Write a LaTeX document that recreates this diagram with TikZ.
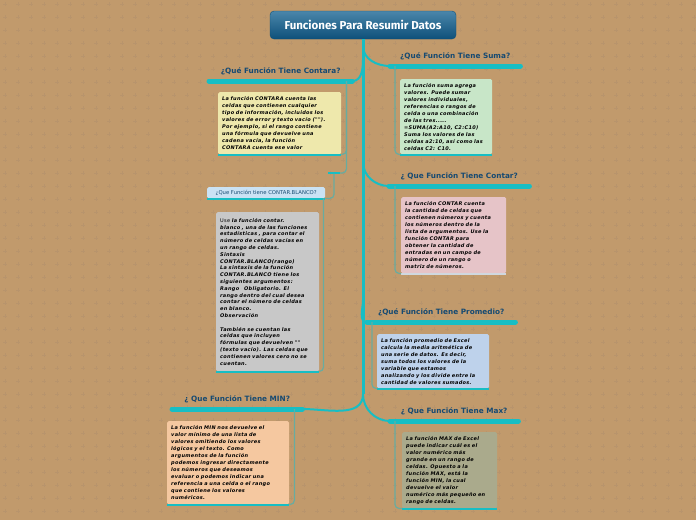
\documentclass[tikz,border=0pt]{standalone}
\usepackage{fontspec}
\setmainfont{DejaVu Sans}
\newfontfamily\titlefont{Fira Sans}
\newfontfamily\notefont[LetterSpace=6]{DejaVu Sans}
\usetikzlibrary{positioning}
\definecolor{board}{RGB}{193,154,108}
\definecolor{cross}{RGB}{184,148,108}
\definecolor{branch}{RGB}{23,190,196}
\definecolor{twig}{RGB}{104,172,160}
\definecolor{ink}{RGB}{22,74,114}
\definecolor{headtop}{RGB}{74,134,170}
\definecolor{headbot}{RGB}{14,80,122}
\definecolor{contarawash}{RGB}{238,232,172}
\definecolor{sumawash}{RGB}{200,230,200}
\definecolor{contarwash}{RGB}{230,196,200}
\definecolor{blancowash}{RGB}{202,226,244}
\definecolor{greywash}{RGB}{200,200,200}
\definecolor{promwash}{RGB}{190,210,235}
\definecolor{minwash}{RGB}{245,200,160}
\definecolor{maxwash}{RGB}{170,170,140}
\definecolor{pale}{RGB}{208,216,224}

\begin{document}
\begin{tikzpicture}[x=1pt, y=-1pt,
		head/.style={rounded corners=4pt, top color=headtop, bottom color=headbot,
			draw=headbot, minimum width=186pt, minimum height=28pt,
			font=\titlefont\bfseries\fontsize{11.5}{13}\selectfont, text=white},
		topic/.style={font=\bfseries\fontsize{7.3}{8}\selectfont, text=ink,
			inner xsep=0pt, inner ysep=6pt, text depth=1.5pt, anchor=south west},
		note/.style={font=\notefont\bfseries\itshape\fontsize{5}{7}\selectfont, align=left,
			anchor=north west, rounded corners=1.5pt, inner xsep=4pt, inner ysep=2pt},
		bar/.style={line width=5pt, branch, line cap=round},
		edge/.style={line width=2pt, branch},
		rim/.style={line width=2pt, branch},
		leaf/.style={line width=1.2pt, twig, rounded corners=4pt}]
		\useasboundingbox (0,0) rectangle (696,520);
		\fill[board] (0,0) rectangle (696,520);
		\foreach \x in {5,18,...,696}
			\foreach \y in {4,17,...,520}
				\draw[cross, line width=0.5pt] (\x-2,\y) -- (\x+2,\y) (\x,\y-2) -- (\x,\y+2);

		\node[head] (root) at (363,25) {Funciones Para Resumir Datos};
		\coordinate (trunkend) at (363,394);
		\draw[line width=3pt, branch] (root.south) -- (trunkend);

		% topics
		\node[topic, minimum width=130pt] (suma) at (390,66) {¿Qué Función Tiene Suma?};
		\node[topic, minimum width=143pt] (contara) at (209,81) {¿Qué Función Tiene Contara?};
		\node[topic, minimum width=140pt] (contar) at (389,186) {¿ Que Función Tiene Contar?};
		\node[topic, minimum width=148pt] (prom) at (367,322) {¿Qué Función Tiene Promedio?};
		\node[topic, minimum width=130pt] (min) at (172,409) {¿ Que Función Tiene MIN?};
		\node[topic, minimum width=128pt] (max) at (390,421) {¿ Que Función Tiene Max?};
		\foreach \t in {suma,contara,contar,prom,min,max}
			\draw[bar] (\t.south west) -- (\t.south east);

		\draw[edge] (363,46) to[out=-90, in=180] (suma.south west);
		\draw[edge] (363,60) to[out=-90, in=0] (contara.south east);
		\draw[edge] (363,162) to[out=-90, in=180] (contar.south west);
		\draw[edge] (363,300) to[out=-90, in=180] (prom.south west);
		\draw[edge] (trunkend) to[out=-90, in=0] (min.south east);
		\draw[edge] (trunkend) to[out=-90, in=180] (max.south west);

		% notes
		\node[note, fill=contarawash, minimum width=123pt, minimum height=62pt, text width=115pt]
			(contaranote) at (218,92)
			{La función CONTARA cuenta las\\ celdas que contienen cualquier\\
			 tipo de información, incluidos los\\ valores de error y texto vacío ("").\\
			 Por ejemplo, si el rango contiene\\ una fórmula que devuelve una\\
			 cadena vacía, la función\\ CONTARA cuenta ese valor};
		\node[note, fill=sumawash, minimum width=92pt, minimum height=75pt, text width=84pt]
			(sumanote) at (400,79)
			{La función suma agrega\\ valores. Puede sumar\\ valores individuales,\\
			 referencias o rangos de\\ celda o una combinación\\ de las tres.....\\
			 =SUMA(A2:A10, C2:C10)\\ Suma los valores de las\\
			 celdas a2:10, así como las\\ celdas C2: C10.};
		\node[note, fill=contarwash, minimum width=105pt, minimum height=76pt, text width=97pt]
			(contarnote) at (401,197)
			{La función CONTAR cuenta\\ la cantidad de celdas que\\
			 contienen números y cuenta\\ los números dentro de la\\
			 lista de argumentos. Use la\\ función CONTAR para\\
			 obtener la cantidad de\\ entradas en un campo de\\
			 número de un rango o\\ matriz de números.};
		\node[inner sep=0pt, minimum width=12pt] (stub) at (334,173) {};
		\draw[line width=2.5pt, branch] (stub.west) -- (stub.east);
		\node[note, font=\fontsize{5.3}{6}\selectfont, text=ink, fill=blancowash,
			minimum width=118pt, minimum height=11pt, align=center] (blanco) at (207,187)
			{¿Que Función tiene CONTAR.BLANCO?};
		\node[note, fill=greywash, minimum width=103pt, minimum height=159pt, text width=95pt,
			font=\notefont\bfseries\itshape\fontsize{5}{6.8}\selectfont] (greynote) at (216,212)
			{{\mdseries\upshape Use} la función contar.\\ blanco , una de las funciones\\
			 estadísticas , para contar el\\ número de celdas vacías en\\
			 un rango de celdas.\\ Sintaxis\\ CONTAR.BLANCO(rango)\\
			 La sintaxis de la función\\ CONTAR.BLANCO tiene los\\
			 siguientes argumentos:\\ Rango\quad Obligatorio. El\\
			 rango dentro del cual desea\\ contar el número de celdas\\
			 en blanco.\\ Observación\\[6.8pt] También se cuentan las\\
			 celdas que incluyen\\ fórmulas que devuelven ""\\
			 (texto vacío). Las celdas que\\ contienen valores cero no se\\ cuentan.};
		\node[note, fill=promwash, minimum width=112pt, minimum height=54pt, text width=104pt]
			(promnote) at (377,334)
			{La función promedio de Excel\\ calcula la media aritmética de\\
			 una serie de datos. Es decir,\\ suma todos los valores de la\\
			 variable que estamos\\ analizando y los divide entre la\\
			 cantidad de valores sumados.};
		\node[note, fill=minwash, minimum width=122pt, minimum height=83pt, text width=114pt]
			(minnote) at (167,421)
			{La función MIN nos devuelve el\\ valor mínimo de una lista de\\
			 valores omitiendo los valores\\ lógicos y el texto. Como\\
			 argumentos de la función\\ podemos ingresar directamente\\
			 los números que deseamos\\ evaluar o podemos indicar una\\
			 referencia a una celda o el rango\\ que contiene los valores\\ numéricos.};
		\node[note, fill=maxwash, minimum width=95pt, minimum height=76pt, text width=87pt]
			(maxnote) at (402,432)
			{La función MAX de Excel\\ puede indicar cuál es el\\
			 valor numérico más\\ grande en un rango de\\
			 celdas. Opuesto a la\\ función MAX, está la\\
			 función MIN, la cual\\ devuelve el valor\\
			 numérico más pequeño en\\ rango de celdas.};
		\foreach \n in {contaranote,sumanote,blanco,greynote,promnote,minnote,maxnote}
			\draw[rim] ([yshift=-1pt]\n.south west) -- ([yshift=-1pt]\n.south east);
		\draw[line width=2pt, pale] ([yshift=-1pt]contarnote.south west) -- ([yshift=-1pt]contarnote.south east);

		% twigs
		\draw[leaf] ([xshift=5pt]suma.south west) |- (sumanote.south west);
		\draw[leaf] ([xshift=-6pt]contara.south east) |- (contaranote.south east);
		\draw[leaf] ([xshift=-6pt]contara.south east) |- (stub.east);
		\draw[leaf] (stub.south) |- (blanco.south east);
		\draw[leaf] ([xshift=-2pt]blanco.south east) |- (greynote.south east);
		\draw[leaf] ([xshift=6pt]contar.south west) |- (contarnote.south west);
		\draw[leaf] ([xshift=5pt]prom.south west) |- (promnote.south west);
		\draw[leaf] ([xshift=-8pt]min.south east) |- (minnote.south east);
		\draw[leaf] ([xshift=5pt]max.south west) |- (maxnote.south west);
	\end{tikzpicture}
\end{document}
